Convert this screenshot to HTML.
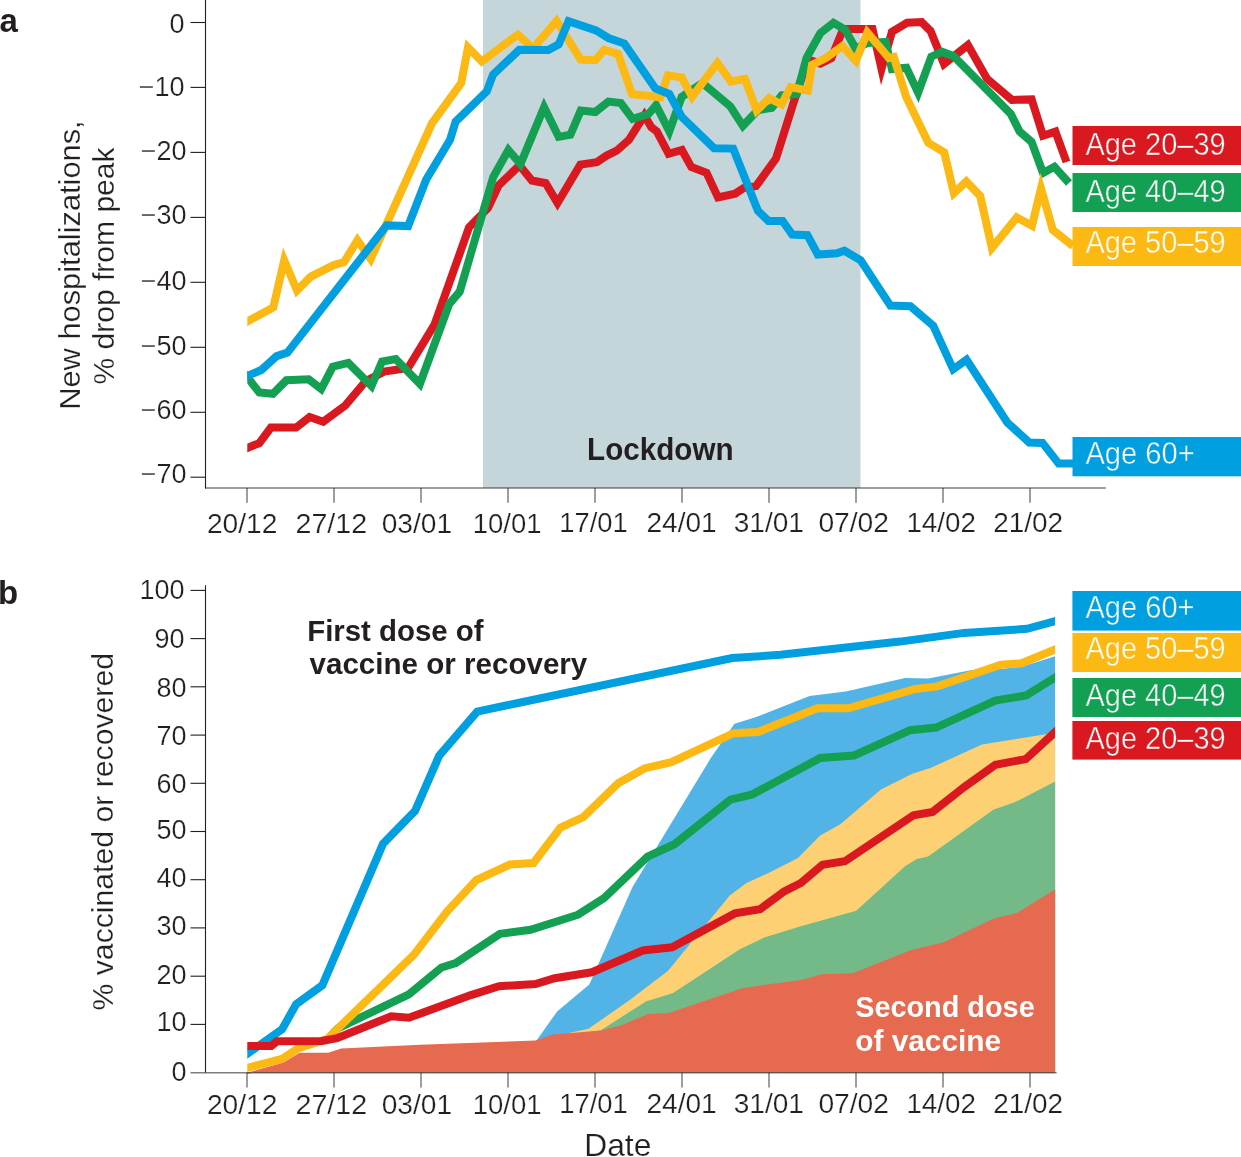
<!DOCTYPE html><html><head><meta charset="utf-8"><title>Hospitalizations and vaccination</title>
<style>html,body{margin:0;padding:0;background:#fff;width:1241px;height:1157px;overflow:hidden}svg{display:block;will-change:transform}text{font-family:"Liberation Sans",sans-serif}.t{stroke:#fff;stroke-width:0.22px}</style></head><body>
<svg width="1241" height="1157" viewBox="0 0 1241 1157">
<rect width="1241" height="1157" fill="#fff"/>
<rect x="483" y="0" width="377.5" height="488" fill="#c5d6db"/>
<text x="587.1" y="459.5" font-size="31" font-weight="bold" fill="#231f20" textLength="146.5" lengthAdjust="spacingAndGlyphs">Lockdown</text>
<line x1="205.5" y1="0" x2="205.5" y2="488.5" stroke="#231f20" stroke-width="1.1"/>
<line x1="190.5" y1="22.5" x2="205.5" y2="22.5" stroke="#231f20" stroke-width="1.1"/>
<text x="184.5" y="33.0" font-size="27" text-anchor="end" fill="#231f20" class="t">0</text>
<line x1="190.5" y1="87.4" x2="205.5" y2="87.4" stroke="#231f20" stroke-width="1.1"/>
<text x="184.5" y="96.3" font-size="27" text-anchor="end" fill="#231f20" class="t">−10</text>
<line x1="190.5" y1="152.4" x2="205.5" y2="152.4" stroke="#231f20" stroke-width="1.1"/>
<text x="186.6" y="159.7" font-size="27" text-anchor="end" fill="#231f20" class="t">−20</text>
<line x1="190.5" y1="217.4" x2="205.5" y2="217.4" stroke="#231f20" stroke-width="1.1"/>
<text x="186.6" y="223.8" font-size="27" text-anchor="end" fill="#231f20" class="t">−30</text>
<line x1="190.5" y1="282.3" x2="205.5" y2="282.3" stroke="#231f20" stroke-width="1.1"/>
<text x="186.6" y="289.7" font-size="27" text-anchor="end" fill="#231f20" class="t">−40</text>
<line x1="190.5" y1="347.3" x2="205.5" y2="347.3" stroke="#231f20" stroke-width="1.1"/>
<text x="186.6" y="355.2" font-size="27" text-anchor="end" fill="#231f20" class="t">−50</text>
<line x1="190.5" y1="412.3" x2="205.5" y2="412.3" stroke="#231f20" stroke-width="1.1"/>
<text x="186.6" y="418.6" font-size="27" text-anchor="end" fill="#231f20" class="t">−60</text>
<line x1="190.5" y1="477.2" x2="205.5" y2="477.2" stroke="#231f20" stroke-width="1.1"/>
<text x="186.6" y="483.0" font-size="27" text-anchor="end" fill="#231f20" class="t">−70</text>
<line x1="205" y1="487.9" x2="1105.8" y2="487.9" stroke="rgba(35,31,32,0.58)" stroke-width="1.5"/>
<line x1="247" y1="487.9" x2="247" y2="502.8" stroke="rgba(35,31,32,0.58)" stroke-width="1.5"/>
<line x1="334" y1="487.9" x2="334" y2="502.8" stroke="rgba(35,31,32,0.58)" stroke-width="1.5"/>
<line x1="421" y1="487.9" x2="421" y2="502.8" stroke="rgba(35,31,32,0.58)" stroke-width="1.5"/>
<line x1="508" y1="487.9" x2="508" y2="502.8" stroke="rgba(35,31,32,0.58)" stroke-width="1.5"/>
<line x1="595" y1="487.9" x2="595" y2="502.8" stroke="rgba(35,31,32,0.58)" stroke-width="1.5"/>
<line x1="682" y1="487.9" x2="682" y2="502.8" stroke="rgba(35,31,32,0.58)" stroke-width="1.5"/>
<line x1="769" y1="487.9" x2="769" y2="502.8" stroke="rgba(35,31,32,0.58)" stroke-width="1.5"/>
<line x1="856" y1="487.9" x2="856" y2="502.8" stroke="rgba(35,31,32,0.58)" stroke-width="1.5"/>
<line x1="943" y1="487.9" x2="943" y2="502.8" stroke="rgba(35,31,32,0.58)" stroke-width="1.5"/>
<line x1="1030" y1="487.9" x2="1030" y2="502.8" stroke="rgba(35,31,32,0.58)" stroke-width="1.5"/>
<text x="206.9" y="533.0" font-size="27" fill="#231f20" class="t" textLength="70.5" lengthAdjust="spacingAndGlyphs">20/12</text>
<text x="295.5" y="533.0" font-size="27" fill="#231f20" class="t" textLength="71.7" lengthAdjust="spacingAndGlyphs">27/12</text>
<text x="381.7" y="533.0" font-size="27" fill="#231f20" class="t" textLength="70.5" lengthAdjust="spacingAndGlyphs">03/01</text>
<text x="472.8" y="533.0" font-size="27" fill="#231f20" class="t" textLength="68.8" lengthAdjust="spacingAndGlyphs">10/01</text>
<text x="559.3" y="531.8" font-size="27" fill="#231f20" class="t" textLength="68.5" lengthAdjust="spacingAndGlyphs">17/01</text>
<text x="646.5" y="531.8" font-size="27" fill="#231f20" class="t" textLength="70.2" lengthAdjust="spacingAndGlyphs">24/01</text>
<text x="733.7" y="531.8" font-size="27" fill="#231f20" class="t" textLength="70.2" lengthAdjust="spacingAndGlyphs">31/01</text>
<text x="818.4" y="531.8" font-size="27" fill="#231f20" class="t" textLength="70.6" lengthAdjust="spacingAndGlyphs">07/02</text>
<text x="906.4" y="531.8" font-size="27" fill="#231f20" class="t" textLength="69.5" lengthAdjust="spacingAndGlyphs">14/02</text>
<text x="993.2" y="531.8" font-size="27" fill="#231f20" class="t" textLength="69.9" lengthAdjust="spacingAndGlyphs">21/02</text>
<defs><clipPath id="ca"><rect x="247.3" y="0" width="1000" height="560"/></clipPath><clipPath id="cb"><rect x="247.3" y="560" width="807.8" height="600"/></clipPath></defs>
<g clip-path="url(#ca)">
<polyline points="236.4,452.4 259.3,443.1 270.9,427.6 296.1,427.6 309.6,417.0 323.2,421.8 345.4,405.4 365.7,381.2 384.1,371.6 408.0,368.0 434.5,324.5 469.0,227.5 488.0,208.0 498.7,185.3 519.5,165.3 531.9,180.5 545.7,183.2 557.5,203.0 580.3,164.6 596.9,162.1 606.6,155.6 616.7,150.7 629.1,139.7 644.4,115.3 651.3,127.2 656.8,131.4 668.6,153.8 681.9,150.0 691.4,167.1 706.6,172.8 718.0,197.5 735.1,193.7 743.7,188.0 756.0,186.1 776.0,158.5 795.4,96.8 807.9,59.5 820.3,63.6 831.4,58.1 842.4,31.0 846.6,29.0 872.5,29.0 881.5,69.0 891.9,31.8 907.1,22.8 921.6,22.1 930.6,31.1 944.0,64.0 967.9,45.0 987.0,78.7 1011.9,99.9 1031.6,99.4 1043.0,135.7 1055.4,131.6 1066.5,162.0" fill="none" stroke="#d9181f" stroke-width="8.0" stroke-linejoin="miter" stroke-miterlimit="10" stroke-linecap="butt"/>
<polyline points="240.1,368.0 259.3,392.4 272.9,393.8 286.4,380.3 308.7,379.3 321.2,389.0 332.8,366.7 348.3,362.9 371.5,386.1 382.1,361.5 395.7,359.0 419.9,383.9 449.3,303.8 459.7,291.7 493.2,177.0 508.4,150.0 520.5,164.0 544.1,107.2 558.7,136.9 570.4,134.8 580.7,110.6 595.3,112.0 608.4,101.6 620.8,103.0 632.6,118.9 648.5,114.1 656.1,105.1 669.3,131.4 681.7,96.8 702.4,83.0 730.4,106.5 742.9,125.8 758.1,110.0 771.9,107.9 781.6,95.4 796.8,94.0 806.5,58.1 820.3,33.2 833.5,22.8 845.2,29.7 855.6,48.5 867.7,42.9 885.6,42.0 891.9,69.1 906.4,67.8 918.1,92.7 931.3,56.7 942.3,51.9 953.4,56.0 1010.8,113.9 1019.6,131.6 1031.6,141.9 1043.0,173.0 1054.4,166.8 1069.0,183.0" fill="none" stroke="#13a052" stroke-width="8.0" stroke-linejoin="miter" stroke-miterlimit="10" stroke-linecap="butt"/>
<polyline points="237.0,327.1 273.3,307.4 284.2,260.3 297.0,290.5 310.8,276.6 333.8,265.1 344.1,262.1 357.4,240.3 370.7,259.0 432.1,123.1 461.2,83.0 468.0,47.4 481.9,61.5 517.9,34.6 533.1,48.4 556.6,21.0 580.7,59.5 595.3,60.2 604.3,49.8 618.1,53.9 631.9,94.0 660.3,97.5 667.9,75.4 681.7,77.4 692.1,96.8 717.3,62.9 731.1,81.6 744.9,78.8 756.7,110.6 769.1,98.2 781.6,104.4 790.6,87.1 807.9,90.6 812.0,65.0 825.8,58.0 842.4,46.0 855.9,60.8 867.3,32.5 889.0,58.0 893.8,57.0 906.2,97.0 928.3,142.8 944.2,152.4 953.9,193.2 966.3,181.5 980.2,196.0 991.9,248.0 1016.8,217.4 1032.0,225.7 1041.0,188.4 1052.8,229.9 1073.0,246.0" fill="none" stroke="#fdb913" stroke-width="8.0" stroke-linejoin="miter" stroke-miterlimit="10" stroke-linecap="butt"/>
<polyline points="236.4,380.4 261.3,370.0 276.7,356.1 287.4,352.6 386.7,225.4 408.1,226.1 426.1,179.7 450.1,139.7 455.6,121.7 486.8,91.3 493.0,74.7 519.3,49.8 548.3,50.1 558.7,44.3 568.5,21.3 596.0,30.4 608.4,38.0 624.3,43.6 655.4,88.5 669.3,94.0 681.7,116.9 714.0,148.2 733.2,148.6 757.9,210.8 768.4,220.9 782.6,220.9 792.2,234.6 807.4,235.2 817.8,254.5 836.8,253.2 844.4,250.7 860.6,260.3 890.4,305.6 910.4,306.2 933.2,325.6 953.2,369.3 966.5,359.8 1007.4,422.6 1029.2,442.5 1042.5,442.9 1058.7,463.6 1073.0,463.6" fill="none" stroke="#009fdf" stroke-width="8.0" stroke-linejoin="miter" stroke-miterlimit="10" stroke-linecap="butt"/>
</g>
<rect x="1072.5" y="126" width="170" height="39.0" fill="#d9181f"/>
<text x="1085.4" y="155.1" font-size="30.5" fill="#fff" stroke="#d9181f" stroke-width="0.45" textLength="140.3" lengthAdjust="spacingAndGlyphs">Age 20–39</text>
<rect x="1072.5" y="173" width="170" height="39.0" fill="#13a052"/>
<text x="1085.4" y="202.0" font-size="30.5" fill="#fff" stroke="#13a052" stroke-width="0.45" textLength="140.3" lengthAdjust="spacingAndGlyphs">Age 40–49</text>
<rect x="1072.5" y="227" width="170" height="39.0" fill="#fdb913"/>
<text x="1085.4" y="253.4" font-size="30.5" fill="#fff" stroke="#fdb913" stroke-width="0.45" textLength="140.3" lengthAdjust="spacingAndGlyphs">Age 50–59</text>
<rect x="1072.5" y="437" width="170" height="39.3" fill="#009fdf"/>
<text x="1085.4" y="463.8" font-size="30.5" fill="#fff" stroke="#009fdf" stroke-width="0.45" textLength="109.3" lengthAdjust="spacingAndGlyphs">Age 60+</text>
<text transform="translate(80.2,409.8) rotate(-90)" font-size="29.5" fill="#231f20" class="t" textLength="289.5" lengthAdjust="spacingAndGlyphs">New hospitalizations,</text>
<text transform="translate(113.6,384.5) rotate(-90)" font-size="29.5" fill="#231f20" class="t" textLength="237" lengthAdjust="spacingAndGlyphs">% drop from peak</text>
<text x="-0.5" y="32.2" font-size="33" font-weight="bold" fill="#231f20">a</text>
<polygon points="247.3,1074.1 283.5,1064.1 299.5,1054.3 328.3,1054.3 341.2,1049.9 420.0,1046.2 535.4,1042.1 537.3,1039.6 557.1,1011.4 589.3,984.4 632.5,887.0 710.8,758.1 734.5,723.8 755.5,717.3 809.6,695.9 845.7,691.5 905.0,677.9 928.2,678.4 972.1,670.1 1000.9,668.9 1022.4,666.6 1055.1,656.3 1055.1,1072.6 247.3,1072.6" fill="#52b4e6"/>
<polygon points="247.3,1074.1 283.5,1064.1 299.5,1054.3 328.3,1054.3 341.2,1049.9 420.0,1046.2 535.4,1042.1 553.1,1035.9 568.3,1034.7 570.0,1032.8 588.5,1028.8 629.1,1000.4 667.9,971.0 729.7,895.6 746.5,883.0 769.5,872.6 798.0,858.0 820.2,835.5 840.4,824.3 880.9,789.4 912.4,773.7 930.3,768.1 982.0,744.5 1010.1,740.0 1055.1,732.8 1055.1,1072.6 247.3,1072.6" fill="#fdd074"/>
<polygon points="247.3,1074.1 283.5,1064.1 299.5,1054.3 328.3,1054.3 341.2,1049.9 420.0,1046.2 535.4,1042.1 553.1,1035.9 568.3,1034.7 600.6,1030.4 645.9,1001.4 673.1,993.0 740.2,949.0 764.3,937.5 800.0,926.5 856.2,910.8 905.6,865.8 916.9,859.1 928.1,856.4 993.3,809.7 1015.7,801.8 1055.1,781.6 1055.1,1072.6 247.3,1072.6" fill="#74ba88"/>
<polygon points="247.3,1072.6 283.5,1062.6 299.5,1052.8 328.3,1052.8 341.2,1048.4 420.0,1044.7 535.4,1040.6 553.1,1034.4 568.3,1033.2 600.6,1030.4 620.8,1025.5 648.0,1014.0 668.9,1012.9 742.3,988.2 765.3,984.7 803.0,979.8 821.3,974.2 852.8,973.3 911.2,950.1 943.8,942.2 993.3,918.7 1016.9,913.0 1055.1,889.4 1055.1,1072.6 247.3,1072.6" fill="#e66a4f"/>
<g clip-path="url(#cb)">
<polyline points="237.5,1060.8 282.1,1029.2 296.1,1004.3 322.3,985.3 383.0,843.8 415.0,811.0 439.2,755.7 477.2,711.6 732.2,658.0 780.6,654.8 900.0,641.6 964.2,632.9 1027.0,628.8 1066.7,617.9" fill="none" stroke="#009fdf" stroke-width="8.0" stroke-linejoin="miter" stroke-miterlimit="10" stroke-linecap="butt"/>
<polyline points="333.0,1033.2 338.0,1028.3 408.9,994.4 441.5,967.5 455.7,963.0 499.9,933.8 530.5,929.8 578.1,914.7 604.0,898.1 647.6,856.6 674.5,844.2 730.5,799.6 752.3,794.4 820.2,758.0 854.0,755.5 910.2,730.2 936.0,727.6 995.3,700.6 1026.2,695.4 1065.3,671.1" fill="none" stroke="#13a052" stroke-width="8.0" stroke-linejoin="miter" stroke-miterlimit="10" stroke-linecap="butt"/>
<polyline points="235.7,1070.8 281.8,1059.0 298.0,1048.5 327.0,1039.0 413.8,954.9 447.0,911.5 476.3,880.1 510.0,864.5 533.5,863.0 560.4,827.6 583.3,817.2 618.5,783.0 644.5,768.4 671.4,762.2 733.6,733.2 758.0,732.0 817.4,708.3 848.3,708.3 915.3,689.0 937.3,686.4 1000.9,664.8 1021.5,663.2 1066.2,645.0" fill="none" stroke="#fdb913" stroke-width="8.0" stroke-linejoin="miter" stroke-miterlimit="10" stroke-linecap="butt"/>
<polyline points="235.3,1046.0 271.2,1046.0 277.0,1041.3 322.0,1041.0 337.0,1038.2 391.2,1016.2 408.9,1017.8 470.9,995.1 499.1,986.2 535.4,984.1 554.7,978.2 591.8,972.3 642.8,950.5 672.1,947.3 734.9,913.4 760.1,909.2 784.2,891.4 800.9,883.0 822.5,864.7 844.9,861.3 913.5,815.3 932.6,811.9 964.0,787.2 995.5,764.7 1025.8,759.1 1063.9,723.9" fill="none" stroke="#d9181f" stroke-width="8.0" stroke-linejoin="miter" stroke-miterlimit="10" stroke-linecap="butt"/>
</g>
<line x1="205.5" y1="585.2" x2="205.5" y2="1072.5" stroke="#231f20" stroke-width="1.1"/>
<line x1="190.5" y1="590.4" x2="205.5" y2="590.4" stroke="#231f20" stroke-width="1.1"/>
<text x="184.5" y="598.8" font-size="27" text-anchor="end" fill="#231f20" class="t">100</text>
<line x1="190.5" y1="638.6" x2="205.5" y2="638.6" stroke="#231f20" stroke-width="1.1"/>
<text x="184.5" y="647.8" font-size="27" text-anchor="end" fill="#231f20" class="t">90</text>
<line x1="190.5" y1="686.8" x2="205.5" y2="686.8" stroke="#231f20" stroke-width="1.1"/>
<text x="186.6" y="697.0" font-size="27" text-anchor="end" fill="#231f20" class="t">80</text>
<line x1="190.5" y1="735.1" x2="205.5" y2="735.1" stroke="#231f20" stroke-width="1.1"/>
<text x="186.6" y="744.7" font-size="27" text-anchor="end" fill="#231f20" class="t">70</text>
<line x1="190.5" y1="783.3" x2="205.5" y2="783.3" stroke="#231f20" stroke-width="1.1"/>
<text x="186.6" y="792.5" font-size="27" text-anchor="end" fill="#231f20" class="t">60</text>
<line x1="190.5" y1="831.5" x2="205.5" y2="831.5" stroke="#231f20" stroke-width="1.1"/>
<text x="186.6" y="838.6" font-size="27" text-anchor="end" fill="#231f20" class="t">50</text>
<line x1="190.5" y1="879.7" x2="205.5" y2="879.7" stroke="#231f20" stroke-width="1.1"/>
<text x="186.6" y="886.9" font-size="27" text-anchor="end" fill="#231f20" class="t">40</text>
<line x1="190.5" y1="927.9" x2="205.5" y2="927.9" stroke="#231f20" stroke-width="1.1"/>
<text x="186.6" y="934.7" font-size="27" text-anchor="end" fill="#231f20" class="t">30</text>
<line x1="190.5" y1="976.2" x2="205.5" y2="976.2" stroke="#231f20" stroke-width="1.1"/>
<text x="186.6" y="983.6" font-size="27" text-anchor="end" fill="#231f20" class="t">20</text>
<line x1="190.5" y1="1024.4" x2="205.5" y2="1024.4" stroke="#231f20" stroke-width="1.1"/>
<text x="186.6" y="1031.3" font-size="27" text-anchor="end" fill="#231f20" class="t">10</text>
<text x="186.6" y="1081.3" font-size="27" text-anchor="end" fill="#231f20" class="t">0</text>
<line x1="190.5" y1="1072.8" x2="1056.6" y2="1072.8" stroke="rgba(35,31,32,0.58)" stroke-width="1.5"/>
<line x1="247" y1="1072.8" x2="247" y2="1087.5" stroke="rgba(35,31,32,0.58)" stroke-width="1.5"/>
<line x1="334" y1="1072.8" x2="334" y2="1087.5" stroke="rgba(35,31,32,0.58)" stroke-width="1.5"/>
<line x1="421" y1="1072.8" x2="421" y2="1087.5" stroke="rgba(35,31,32,0.58)" stroke-width="1.5"/>
<line x1="508" y1="1072.8" x2="508" y2="1087.5" stroke="rgba(35,31,32,0.58)" stroke-width="1.5"/>
<line x1="595" y1="1072.8" x2="595" y2="1087.5" stroke="rgba(35,31,32,0.58)" stroke-width="1.5"/>
<line x1="682" y1="1072.8" x2="682" y2="1087.5" stroke="rgba(35,31,32,0.58)" stroke-width="1.5"/>
<line x1="769" y1="1072.8" x2="769" y2="1087.5" stroke="rgba(35,31,32,0.58)" stroke-width="1.5"/>
<line x1="856" y1="1072.8" x2="856" y2="1087.5" stroke="rgba(35,31,32,0.58)" stroke-width="1.5"/>
<line x1="943" y1="1072.8" x2="943" y2="1087.5" stroke="rgba(35,31,32,0.58)" stroke-width="1.5"/>
<line x1="1030" y1="1072.8" x2="1030" y2="1087.5" stroke="rgba(35,31,32,0.58)" stroke-width="1.5"/>
<text x="206.9" y="1114.3" font-size="27" fill="#231f20" class="t" textLength="70.5" lengthAdjust="spacingAndGlyphs">20/12</text>
<text x="295.5" y="1114.3" font-size="27" fill="#231f20" class="t" textLength="71.7" lengthAdjust="spacingAndGlyphs">27/12</text>
<text x="381.7" y="1114.3" font-size="27" fill="#231f20" class="t" textLength="70.5" lengthAdjust="spacingAndGlyphs">03/01</text>
<text x="472.8" y="1114.3" font-size="27" fill="#231f20" class="t" textLength="68.8" lengthAdjust="spacingAndGlyphs">10/01</text>
<text x="559.3" y="1113.0" font-size="27" fill="#231f20" class="t" textLength="68.5" lengthAdjust="spacingAndGlyphs">17/01</text>
<text x="646.5" y="1113.0" font-size="27" fill="#231f20" class="t" textLength="70.2" lengthAdjust="spacingAndGlyphs">24/01</text>
<text x="733.7" y="1113.0" font-size="27" fill="#231f20" class="t" textLength="70.2" lengthAdjust="spacingAndGlyphs">31/01</text>
<text x="818.4" y="1113.0" font-size="27" fill="#231f20" class="t" textLength="70.6" lengthAdjust="spacingAndGlyphs">07/02</text>
<text x="906.4" y="1113.0" font-size="27" fill="#231f20" class="t" textLength="69.5" lengthAdjust="spacingAndGlyphs">14/02</text>
<text x="993.2" y="1113.0" font-size="27" fill="#231f20" class="t" textLength="69.9" lengthAdjust="spacingAndGlyphs">21/02</text>
<text x="584.2" y="1155.8" font-size="31.5" fill="#231f20" class="t" textLength="67.2" lengthAdjust="spacingAndGlyphs">Date</text>
<text transform="translate(113.3,1010.5) rotate(-90)" font-size="30" fill="#231f20" class="t" textLength="357.5" lengthAdjust="spacingAndGlyphs">% vaccinated or recovered</text>
<text x="-2" y="603.8" font-size="33" font-weight="bold" fill="#231f20">b</text>
<text x="307.2" y="641.2" font-size="30" font-weight="bold" fill="#231f20" textLength="176.4" lengthAdjust="spacingAndGlyphs">First dose of</text>
<text x="309.5" y="674.2" font-size="30" font-weight="bold" fill="#231f20" textLength="277.8" lengthAdjust="spacingAndGlyphs">vaccine or recovery</text>
<text x="855.2" y="1017.1" font-size="30" font-weight="bold" fill="#fff" textLength="179.5" lengthAdjust="spacingAndGlyphs">Second dose</text>
<text x="855.2" y="1050.5" font-size="30" font-weight="bold" fill="#fff" textLength="146" lengthAdjust="spacingAndGlyphs">of vaccine</text>
<rect x="1072.4" y="591" width="170" height="39.6" fill="#009fdf"/>
<text x="1085.5" y="617.7" font-size="30.5" fill="#fff" stroke="#009fdf" stroke-width="0.45" textLength="109.0" lengthAdjust="spacingAndGlyphs">Age 60+</text>
<rect x="1072.4" y="633" width="170" height="39.0" fill="#fdb913"/>
<text x="1085.5" y="659.4" font-size="30.5" fill="#fff" stroke="#fdb913" stroke-width="0.45" textLength="140.1" lengthAdjust="spacingAndGlyphs">Age 50–59</text>
<rect x="1072.4" y="678" width="170" height="39.0" fill="#13a052"/>
<text x="1085.5" y="706.4" font-size="30.5" fill="#fff" stroke="#13a052" stroke-width="0.45" textLength="140.1" lengthAdjust="spacingAndGlyphs">Age 40–49</text>
<rect x="1072.4" y="721" width="170" height="38.6" fill="#d9181f"/>
<text x="1085.5" y="749.2" font-size="30.5" fill="#fff" stroke="#d9181f" stroke-width="0.45" textLength="140.1" lengthAdjust="spacingAndGlyphs">Age 20–39</text>
</svg></body></html>
